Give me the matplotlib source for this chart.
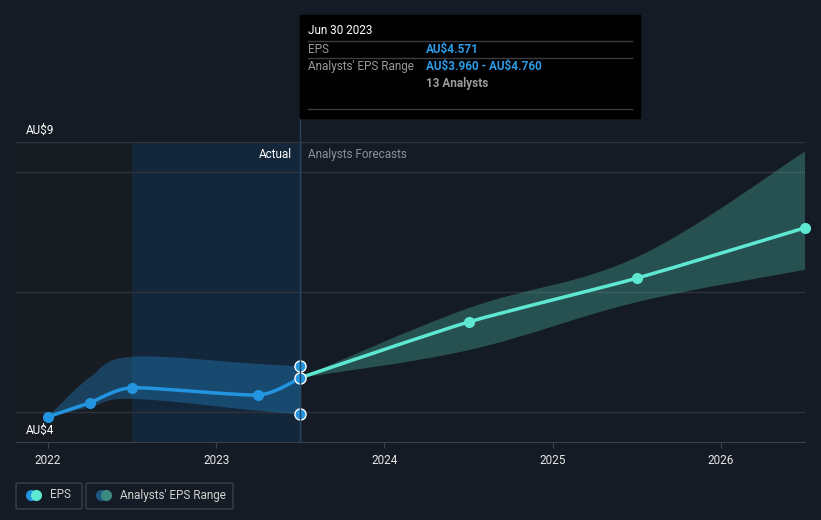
import matplotlib
matplotlib.use("Agg")
import matplotlib.pyplot as plt
from matplotlib.patches import FancyBboxPatch, Rectangle, PathPatch
from matplotlib.path import Path

plt.rcParams["font.family"] = ["Roboto", "DejaVu Sans"]

# actual EPS (year as decimal)
actual_x = [2022.0, 2022.25, 2022.5, 2023.25, 2023.5]
actual_eps = [3.92, 4.155, 4.405, 4.283, 4.571]
actual_hi = [3.92, 4.58, 4.92, 4.80, 4.76]
actual_lo = [3.92, 4.08, 4.22, 4.02, 3.96]

# analyst forecasts
fc_x = [2023.5, 2024.5, 2025.5, 2026.5]
fc_eps = [4.571, 5.50, 6.23, 7.07]
fc_hi = [4.571, 5.73, 6.58, 8.34]
fc_lo = [4.571, 5.03, 5.83, 6.37]

year_ticks = [2022, 2023, 2024, 2025, 2026]

BG = "#151b24"
W, H = 821, 520

fig = plt.figure(figsize=(W / 100, H / 100), dpi=100, facecolor=BG)


def fx(px):
    return px / W


def fy(py):
    return 1 - py / H


def smooth_segments(xs, ys, t=0.2):
    # cubic bezier control points through the given points (drawing only)
    verts = [(xs[0], ys[0])]
    codes = [Path.MOVETO]
    n = len(xs)
    for i in range(n - 1):
        x0, y0 = xs[max(i - 1, 0)], ys[max(i - 1, 0)]
        x1, y1 = xs[i], ys[i]
        x2, y2 = xs[i + 1], ys[i + 1]
        x3, y3 = xs[min(i + 2, n - 1)], ys[min(i + 2, n - 1)]
        c1 = (x1 + (x2 - x0) * t, y1 + (y2 - y0) * t)
        c2 = (x2 - (x3 - x1) * t, y2 - (y3 - y1) * t)
        verts += [c1, c2, (x2, y2)]
        codes += [Path.CURVE4] * 3
    return verts, codes


def smooth_line(ax, xs, ys, t=0.1, **kw):
    v, c = smooth_segments(xs, ys, t)
    ax.add_patch(PathPatch(Path(v, c), fill=False, **kw))


def smooth_band(ax, xs, lo, hi, t=0.18, **kw):
    v1, c1 = smooth_segments(xs, hi, t)
    v2, c2 = smooth_segments(xs[::-1], lo[::-1], t)
    c2[0] = Path.LINETO
    ax.add_patch(PathPatch(Path(v1 + v2 + [v1[0]], c1 + c2 + [Path.CLOSEPOLY]), **kw))


ax = fig.add_axes([fx(16), fy(442), fx(805) - fx(16), fy(142) - fy(442)])
ax.set_facecolor(BG)
ax.set_xlim(2021.81, 2026.5)
ax.set_ylim(3.5, 8.5)

# shaded past regions
ax.axvspan(2021.81, 2022.5, color="#171b22", zorder=0)
ax.axvspan(2022.5, 2023.5, color="#13263a", zorder=0)
ax.axvline(2023.5, color="#24435e", lw=1, zorder=1)

for v in [4, 6, 8, 8.5]:
    ax.axhline(v, color="#2e333c", lw=1, zorder=1)

smooth_band(ax, actual_x, actual_lo, actual_hi, fc="#2394df", alpha=0.33, lw=0, zorder=2)
smooth_band(ax, fc_x, fc_lo, fc_hi, fc="#4fc1b0", alpha=0.32, lw=0, zorder=2)

smooth_line(ax, actual_x, actual_eps, ec="#2394df", lw=2.5, zorder=4, capstyle="round")
ax.plot(actual_x[:-1], actual_eps[:-1], "o", color="#2394df", ms=7, zorder=5)
smooth_line(ax, fc_x, fc_eps, ec="#5ee8d2", lw=2.5, zorder=4, capstyle="round")
ax.plot(fc_x[1:], fc_eps[1:], "o", color="#5ee8d2", ms=7, zorder=5, clip_on=False)
ax.plot([2023.5] * 3, [actual_eps[-1], actual_hi[-1], actual_lo[-1]], "o",
        color="#2394df", mec="white", mew=1, ms=8, zorder=6, clip_on=False)

for s in ["top", "right", "left"]:
    ax.spines[s].set_visible(False)
ax.spines["bottom"].set_color("#3a3f48")
ax.set_yticks([])
ax.set_xticks(year_ticks)
ax.set_xticklabels([str(y) for y in year_ticks])
ax.tick_params(axis="x", colors="#3a3f48", labelcolor="#e6e6e6", labelsize=8.5, length=4, pad=5)

txt = dict(fontsize=8.5, va="center", parse_math=False)
fig.text(fx(26), fy(130), "AU$9", color="white", **txt)
fig.text(fx(26), fy(430), "AU$4", color="white", **txt)
fig.text(fx(292), fy(154), "Actual", color="white", ha="right", **txt)
fig.text(fx(308), fy(154), "Analysts Forecasts", color="#8a8f98", **txt)

# tooltip
fig.patches.append(Rectangle((fx(300), fy(118)), fx(640) - fx(300), fy(15) - fy(118),
                             transform=fig.transFigure, color="#000000", zorder=10))
fig.add_artist(plt.Line2D([fx(300), fx(300)], [fy(442), fy(118)], color="#24435e", lw=1))
for yy in [41, 58, 109]:
    fig.add_artist(plt.Line2D([fx(308), fx(632)], [fy(yy), fy(yy)], color="#3a3d42", lw=1, zorder=11))
fig.text(fx(308), fy(31), "Jun 30 2023", color="white", zorder=12, **txt)
fig.text(fx(308), fy(49.5), "EPS", color="#9a9a9a", zorder=12, **txt)
fig.text(fx(426), fy(49.5), "AU$4.571", color="#2e9be6", fontweight="bold", zorder=12, **txt)
fig.text(fx(308), fy(66.5), "Analysts' EPS Range", color="#9a9a9a", zorder=12, **txt)
fig.text(fx(426), fy(66.5), "AU$3.960 - AU$4.760", color="#2e9be6", fontweight="bold", zorder=12, **txt)
fig.text(fx(426), fy(83.5), "13 Analysts", color="#9a9a9a", fontweight="bold", zorder=12, **txt)

# legend
for x0, x1 in [(16, 82), (86, 233)]:
    fig.patches.append(FancyBboxPatch((fx(x0), fy(509)), fx(x1) - fx(x0), fy(483) - fy(509),
                                      boxstyle="round,pad=0,rounding_size=0.003",
                                      transform=fig.transFigure, fc="none", ec="#3a3f48", lw=1))
fig.add_artist(plt.Line2D([fx(31)], [fy(495)], marker="o", ms=7, color="#2394df", lw=0))
fig.add_artist(plt.Line2D([fx(36)], [fy(495)], marker="o", ms=7, color="#5ee8d2", lw=0))
fig.add_artist(plt.Line2D([fx(101)], [fy(495)], marker="o", ms=7, color="#1d5880", lw=0))
fig.add_artist(plt.Line2D([fx(106)], [fy(495)], marker="o", ms=7, color="#3b8a80", lw=0))
fig.text(fx(50), fy(495), "EPS", color="#d0d0d0", **txt)
fig.text(fx(120), fy(495), "Analysts' EPS Range", color="#d0d0d0", **txt)

fig.savefig("out.png", dpi=100, facecolor=BG)
